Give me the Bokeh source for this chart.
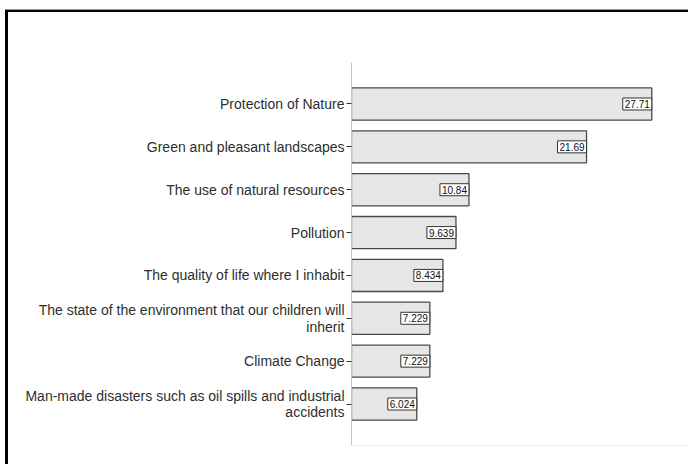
from bokeh.plotting import figure
from bokeh.models import FactorRange, Range1d, ColumnDataSource, FixedTicker
from bokeh.core.properties import value
from bokeh.embed import file_html
from bokeh.resources import INLINE

# Percentages of respondents per concern, top to bottom
categories = [
    "Protection of Nature",
    "Green and pleasant landscapes",
    "The use of natural resources",
    "Pollution",
    "The quality of life where I inhabit",
    "The state of the environment that our children will\ninherit",
    "Climate Change",
    "Man-made disasters such as oil spills and industrial\naccidents",
]
percents = [27.71, 21.69, 10.84, 9.639, 8.434, 7.229, 7.229, 6.024]
value_labels = [f"{v:.4g}" for v in percents]

FONT = "Liberation Sans"

source = ColumnDataSource(dict(cat=categories, pct=percents, lbl=value_labels))

p = figure(
    y_range=FactorRange(*reversed(categories), range_padding=0.117),
    x_range=Range1d(0, 31.1),
    frame_width=337, frame_height=383,
    min_border_left=343, min_border_right=0,
    min_border_top=50, min_border_bottom=19,
    output_backend="svg", toolbar_location=None,
)

# window frame: thick black rule along the top and the left side
p.styles = {
    "margin-left": "5px",
    "margin-top": "10px",
    "border-left": "3px solid #000",
    "border-top": "2px solid #000",
    "box-shadow": "0 -1px 0 #9a9a9a",
}

p.hbar(y="cat", right="pct", left=0, height=0.75, source=source,
       fill_color="#e6e6e6", line_color="#4a4a4a", line_width=1.3)

# boxed value labels at the end of each bar
p.text(x="pct", y="cat", text="lbl", source=source,
       text_align="right", text_baseline="middle",
       text_font=value(FONT), text_font_size="10px", text_color="#111",
       padding=2, background_fill_color="white",
       border_line_color="#333", border_line_width=1)

p.grid.visible = False
p.outline_line_color = None
p.background_fill_color = "white"
p.border_fill_color = "white"

yax = p.yaxis[0]
yax.axis_line_color = "#c4c4c4"
yax.axis_line_width = 1
yax.major_tick_line_color = "#333333"
yax.major_tick_out = 5
yax.major_tick_in = 0
yax.minor_tick_line_color = None
yax.major_label_standoff = 2
yax.major_label_text_font = FONT
yax.major_label_text_font_size = "14px"
yax.major_label_text_line_height = 1.05
yax.major_label_text_color = "#2e2e2e"

# bottom axis only contributes its faint baseline
xax = p.xaxis[0]
xax.ticker = FixedTicker(ticks=[])
xax.axis_line_color = "#eeeeee"
xax.major_tick_line_color = None
xax.minor_tick_line_color = None
xax.major_label_standoff = 0

open("out.html", "w").write(file_html(p, INLINE))
